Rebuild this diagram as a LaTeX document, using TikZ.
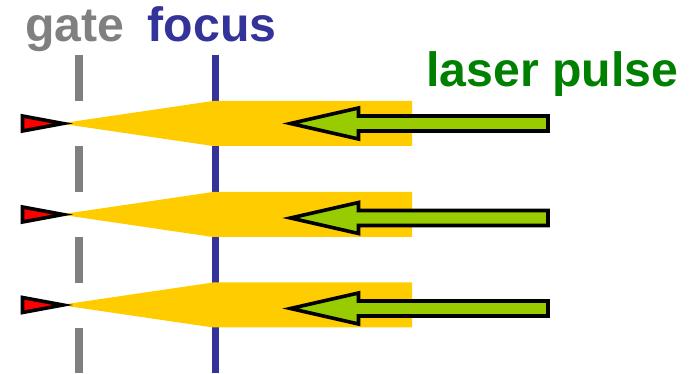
\documentclass[tikz,border=0pt]{standalone}
\usepackage{fontspec}
\setmainfont{Liberation Sans}
\definecolor{gateGray}{HTML}{808080}
\definecolor{focusBlue}{HTML}{333399}
\definecolor{pulseGreen}{HTML}{008000}
\definecolor{beamYellow}{HTML}{FFCC00}
\definecolor{arrowGreen}{HTML}{99CC00}
\begin{document}
\begin{tikzpicture}[x=1pt,y=-1pt,
  label/.style={anchor=base west,inner sep=0pt,font=\fontsize{48.2}{52}\selectfont\bfseries},
  beam/.style={fill=beamYellow,draw=none},
  marker/.style={fill=red,draw=black,line width=3.6pt,miter limit=10},
  pulsearrow/.style={fill=arrowGreen,draw=black,line width=3.6pt,miter limit=10}]
\useasboundingbox (0,0) rectangle (694,374);
% labels
\node[label,text=gateGray] (gate) at (25,42) {gate};
\node[label,text=focusBlue] (focus) at (147.5,42) {focus};
\node[label,text=pulseGreen] (pulse) at (426,87) {laser pulse};
% gate plane (dashed) and focal plane (solid)
\coordinate (gtop) at (79,55);
\coordinate (gbot) at (79,373);
\coordinate (ftop) at (215.5,55);
\coordinate (fbot) at (215.5,373);
\draw[gateGray,line width=8pt,dash pattern=on 46pt off 45pt] (gtop) -- (gbot);
\draw[focusBlue,line width=7pt] (ftop) -- (fbot);
% three focused beams, each with its marker and incoming pulse
\foreach \c/\a in {123.5/123.5, 214.5/218, 305/308.5}{
  \fill[beam] (60,\c) -- (213,\c-22.5) -- (412,\c-22.5) -- (412,\c+22.5) -- (213,\c+22.5) -- cycle;
  \draw[marker] (22.5,\c-7.5) -- (63,\c) -- (22.5,\c+7.5) -- cycle;
  \draw[pulsearrow] (290.5,\a) -- (358.5,\a-15.5) -- (358.5,\a-7.5) -- (548,\a-7.5)
     -- (548,\a+7.5) -- (358.5,\a+7.5) -- (358.5,\a+15.5) -- cycle;
}
\end{tikzpicture}
\end{document}
